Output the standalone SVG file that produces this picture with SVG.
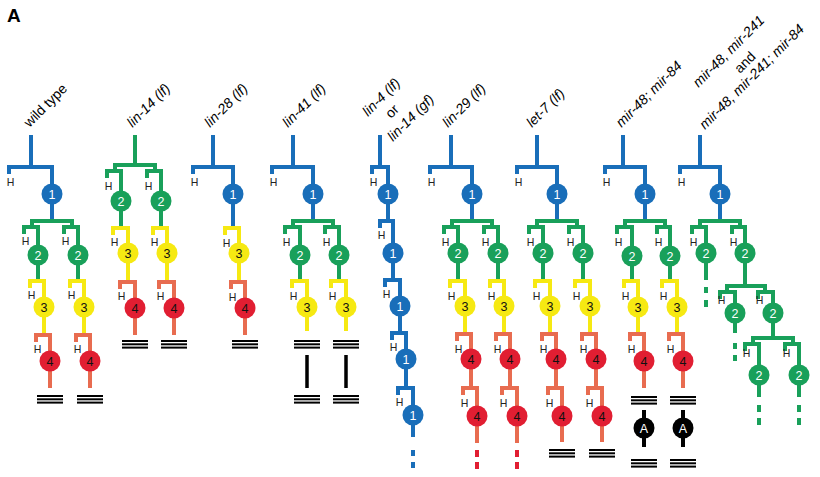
<svg xmlns="http://www.w3.org/2000/svg" width="820" height="477" viewBox="0 0 820 477">
<style>
path{fill:none;stroke-width:4;stroke-linejoin:miter;stroke-linecap:butt}
.b{stroke:#196eb9}.g{stroke:#19a05a}.y{stroke:#f6e912}.o{stroke:#e86c50}.k{stroke:#000}.r{stroke:#e11e32}
.fb{fill:#196eb9}.fg{fill:#19a05a}.fy{fill:#f6e912}.fr{fill:#e11e32}.fk{fill:#000}
text{font-family:"Liberation Sans",Arial,sans-serif}
.n{font-size:12.5px;text-anchor:middle}
.w{fill:#fff}.d{fill:#111}
.h{font-size:10.5px;text-anchor:middle;fill:#222}
.lbl{font-size:14px;fill:#000}
.it{font-style:italic}
</style>
<defs>
<g id="tri"><rect x="-13" y="0" width="26" height="2"/><rect x="-13" y="3.3" width="26" height="2"/><rect x="-13" y="6.6" width="26" height="2"/></g>
</defs>
<text x="7" y="22" style="font-size:19px;font-weight:bold">A</text>
<g id="labels" class="lbl">
<text transform="translate(29.5,128) rotate(-45)">wild type</text>
<text class="it" transform="translate(132.5,128) rotate(-45)">lin-14 (lf)</text>
<text class="it" transform="translate(210,128) rotate(-45)">lin-28 (lf)</text>
<text class="it" transform="translate(288,128) rotate(-45)">lin-41 (lf)</text>
<text class="it" transform="translate(368,117) rotate(-45)">lin-4 (lf)</text>
<text transform="translate(391,119) rotate(-45)">or</text>
<text class="it" transform="translate(393,142) rotate(-45)">lin-14 (gf)</text>
<text class="it" transform="translate(448,128) rotate(-45)">lin-29 (lf)</text>
<text class="it" transform="translate(532,128) rotate(-45)">let-7 (lf)</text>
<text class="it" transform="translate(621.5,128) rotate(-45)">mir-48; mir-84</text>
<text class="it" transform="translate(698.5,88) rotate(-45)">mir-48, mir-241</text>
<text transform="translate(740,74) rotate(-45)">and</text>
<text class="it" transform="translate(705,130) rotate(-45)">mir-48, mir-241; mir-84</text>
</g>
<g id="connectors">
<!-- wild type -->
<path class="b" d="M31,135V167M9,174V167H52V194M52,194V221"/>
<path class="g" d="M32,227V221H72V227M24,234V227H38V255M64,234V227H78V255M38,255V281M78,255V281"/>
<path class="y" d="M30,288V281H44V307M70,288V281H84V307M44,307V335M84,307V335"/>
<path class="o" d="M36,342V335H50V361M76,342V335H90V361M50,361V388M90,361V388"/>
<!-- lin-14 -->
<path class="g" d="M135,135V165M115,171V165H155V171M107,178V171H121V201M147,178V171H161V201M121,201V228M161,201V228"/>
<path class="y" d="M113,235V228H128V253M153,235V228H167V253M128,253V282M167,253V282"/>
<path class="o" d="M120,289V282H135V308M159,289V282H174V308M135,308V335M174,308V335"/>
<!-- lin-28 -->
<path class="b" d="M213,135V167M193,174V167H233V194M233,194V228"/>
<path class="y" d="M225,235V228H239V253M239,253V282"/>
<path class="o" d="M231,289V282H245V308M245,308V335"/>
<!-- lin-41 -->
<path class="b" d="M293,135V167M272,174V167H313V194M313,194V221"/>
<path class="g" d="M293,227V221H333V227M285,234V227H300V255M325,234V227H339V255M300,255V281M339,255V281"/>
<path class="y" d="M292,288V281H307V307M331,288V281H346V307M307,307V331M346,307V331"/>
<path class="k" style="stroke-width:3.5" d="M307,355V388M346,355V388"/>
<!-- lin-4 -->
<path class="b" d="M380,135V167M372,174V167H388V194M388,194V221M380,228V221H393V253M393,253V280M385,287V280H400V306M400,306V333M392,340V333H406V359M406,359V388M398,395V388H413V415M413,415V437M413,450V456M413,462V468"/>
<!-- lin-29 -->
<path class="b" d="M451,135V167M430,174V167H472V194M472,194V221"/>
<path class="g" d="M452,227V221H492V227M444,234V227H458V253M484,234V227H498V253M458,253V281M498,253V281"/>
<path class="y" d="M450,288V281H465V306M490,288V281H504V306M465,306V334M504,306V334"/>
<path class="o" d="M457,341V334H471V359M496,341V334H510V359M471,359V388M510,359V388M463,395V388H477V416M502,395V388H517V416M477,416V443M517,416V443"/>
<path class="r" d="M477,450V457M477,462V469M517,450V457M517,462V469"/>
<!-- let-7 -->
<path class="b" d="M537,135V167M517,174V167H557V194M557,194V221"/>
<path class="g" d="M537,227V221H577V227M529,234V227H543V253M569,234V227H583V253M543,253V281M583,253V281"/>
<path class="y" d="M535,288V281H550V306M575,288V281H590V306M550,306V334M590,306V334"/>
<path class="o" d="M542,341V334H556V359M582,341V334H596V359M556,359V388M596,359V388M548,395V388H562V416M588,395V388H602V416M562,416V442M602,416V442"/>
<!-- mir-48; mir-84 -->
<path class="b" d="M623,135V167M605,174V167H645V194M645,194V221"/>
<path class="g" d="M625,227V221H665V227M617,234V227H632V256M657,234V227H670V256M632,256V281M670,256V281"/>
<path class="y" d="M624,288V281H638V307M662,288V281H677V307M638,307V334M677,307V334"/>
<path class="o" d="M630,341V334H644V361M669,341V334H683V361M644,361V388M683,361V388"/>
<path class="k" d="M644,410V447M683,410V447"/>
<!-- mir-48, mir-241 (; mir-84) -->
<path class="b" d="M700,135V167M680,174V167H720V194M720,194V221"/>
<path class="g" d="M700,227V221H740V227M692,234V227H706V253M732,234V227H745V253M706,253V280M706,287V293M706,300V307M745,253V286M727,292V286H765V292M720,299V292H735V313M758,299V292H773V313M735,313V333M735,343V349M735,355V361M773,313V338M753,344V338H793V344M745,351V344H759V375M785,351V344H799V375M759,375V397M799,375V397M759,405V412M759,418V425M799,405V412M799,418V425"/>
</g>
<g id="terminators">
<use href="#tri" x="50" y="395"/><use href="#tri" x="90" y="395"/>
<use href="#tri" x="135" y="340"/><use href="#tri" x="174" y="340"/>
<use href="#tri" x="245" y="340"/>
<use href="#tri" x="307" y="340"/><use href="#tri" x="346" y="340"/>
<use href="#tri" x="307" y="395"/><use href="#tri" x="346" y="395"/>
<use href="#tri" x="562" y="449"/><use href="#tri" x="602" y="449"/>
<use href="#tri" x="644" y="396"/><use href="#tri" x="683" y="396"/>
<use href="#tri" x="644" y="459"/><use href="#tri" x="683" y="459"/>
</g>
<g id="hlabels" class="h">
<text x="10.5" y="186">H</text><text x="25.5" y="245">H</text><text x="65.5" y="245">H</text><text x="31.5" y="299">H</text><text x="71.5" y="299">H</text><text x="37.5" y="353">H</text><text x="77.5" y="353">H</text>
<text x="108.5" y="190">H</text><text x="148.5" y="190">H</text><text x="114.5" y="246">H</text><text x="154.5" y="246">H</text><text x="121.5" y="300">H</text><text x="160.5" y="300">H</text>
<text x="194.5" y="185.5">H</text><text x="226.5" y="246.5">H</text><text x="232.5" y="300.5">H</text>
<text x="273.5" y="185.5">H</text><text x="286.5" y="245.5">H</text><text x="326.5" y="245.5">H</text><text x="293.5" y="299.5">H</text><text x="332.5" y="299.5">H</text>
<text x="373.5" y="185.5">H</text><text x="381.5" y="239">H</text><text x="386.5" y="298">H</text><text x="393.5" y="351">H</text><text x="399.5" y="406">H</text>
<text x="431.5" y="185.5">H</text><text x="445.5" y="245.5">H</text><text x="485.5" y="245.5">H</text><text x="451.5" y="299.5">H</text><text x="491.5" y="299.5">H</text><text x="458.5" y="352.5">H</text><text x="497.5" y="352.5">H</text><text x="464.5" y="406.5">H</text><text x="503.5" y="406.5">H</text>
<text x="518.5" y="185.5">H</text><text x="530.5" y="245.5">H</text><text x="570.5" y="245.5">H</text><text x="536.5" y="299.5">H</text><text x="576.5" y="299.5">H</text><text x="543.5" y="352.5">H</text><text x="583.5" y="352.5">H</text><text x="549.5" y="406.5">H</text><text x="589.5" y="406.5">H</text>
<text x="606.5" y="185.5">H</text><text x="618.5" y="245.5">H</text><text x="658.5" y="245.5">H</text><text x="625.5" y="299.5">H</text><text x="663.5" y="299.5">H</text><text x="631.5" y="352.5">H</text><text x="670.5" y="352.5">H</text>
<text x="681.5" y="185.5">H</text><text x="693.5" y="245.5">H</text><text x="733.5" y="245.5">H</text><text x="721.5" y="304">H</text><text x="759.5" y="304">H</text><text x="746.5" y="357">H</text><text x="786.5" y="357">H</text>
</g>
<g id="nodes" class="n">
<g id="wt-1"><circle cx="52" cy="194" r="10.5" class="fb"/><text x="52" y="198.5" class="w">1</text></g>
<g id="wt-2a"><circle cx="38" cy="255" r="10.5" class="fg"/><text x="38" y="259.5" class="w">2</text></g>
<g id="wt-2b"><circle cx="78" cy="255" r="10.5" class="fg"/><text x="78" y="259.5" class="w">2</text></g>
<g id="wt-3a"><circle cx="44" cy="307" r="10.5" class="fy"/><text x="44" y="311.5" class="d">3</text></g>
<g id="wt-3b"><circle cx="84" cy="307" r="10.5" class="fy"/><text x="84" y="311.5" class="d">3</text></g>
<g id="wt-4a"><circle cx="50" cy="361" r="10.5" class="fr"/><text x="50" y="365.5" class="d">4</text></g>
<g id="wt-4b"><circle cx="90" cy="361" r="10.5" class="fr"/><text x="90" y="365.5" class="d">4</text></g>

<g id="l14-2a"><circle cx="121" cy="201" r="10.5" class="fg"/><text x="121" y="205.5" class="w">2</text></g>
<g id="l14-2b"><circle cx="161" cy="201" r="10.5" class="fg"/><text x="161" y="205.5" class="w">2</text></g>
<g id="l14-3a"><circle cx="128" cy="253" r="10.5" class="fy"/><text x="128" y="257.5" class="d">3</text></g>
<g id="l14-3b"><circle cx="167" cy="253" r="10.5" class="fy"/><text x="167" y="257.5" class="d">3</text></g>
<g id="l14-4a"><circle cx="135" cy="308" r="10.5" class="fr"/><text x="135" y="312.5" class="d">4</text></g>
<g id="l14-4b"><circle cx="174" cy="308" r="10.5" class="fr"/><text x="174" y="312.5" class="d">4</text></g>

<g id="l28-1"><circle cx="233" cy="194" r="10.5" class="fb"/><text x="233" y="198.5" class="w">1</text></g>
<g id="l28-3"><circle cx="239" cy="253" r="10.5" class="fy"/><text x="239" y="257.5" class="d">3</text></g>
<g id="l28-4"><circle cx="245" cy="308" r="10.5" class="fr"/><text x="245" y="312.5" class="d">4</text></g>

<g id="l41-1"><circle cx="313" cy="194" r="10.5" class="fb"/><text x="313" y="198.5" class="w">1</text></g>
<g id="l41-2a"><circle cx="300" cy="255" r="10.5" class="fg"/><text x="300" y="259.5" class="w">2</text></g>
<g id="l41-2b"><circle cx="339" cy="255" r="10.5" class="fg"/><text x="339" y="259.5" class="w">2</text></g>
<g id="l41-3a"><circle cx="307" cy="307" r="10.5" class="fy"/><text x="307" y="311.5" class="d">3</text></g>
<g id="l41-3b"><circle cx="346" cy="307" r="10.5" class="fy"/><text x="346" y="311.5" class="d">3</text></g>

<g id="l4-1a"><circle cx="388" cy="194" r="10.5" class="fb"/><text x="388" y="198.5" class="w">1</text></g>
<g id="l4-1b"><circle cx="393" cy="253" r="10.5" class="fb"/><text x="393" y="257.5" class="w">1</text></g>
<g id="l4-1c"><circle cx="400" cy="306" r="10.5" class="fb"/><text x="400" y="310.5" class="w">1</text></g>
<g id="l4-1d"><circle cx="406" cy="359" r="10.5" class="fb"/><text x="406" y="363.5" class="w">1</text></g>
<g id="l4-1e"><circle cx="413" cy="415" r="10.5" class="fb"/><text x="413" y="419.5" class="w">1</text></g>

<g id="l29-1"><circle cx="472" cy="194" r="10.5" class="fb"/><text x="472" y="198.5" class="w">1</text></g>
<g id="l29-2a"><circle cx="458" cy="253" r="10.5" class="fg"/><text x="458" y="257.5" class="w">2</text></g>
<g id="l29-2b"><circle cx="498" cy="253" r="10.5" class="fg"/><text x="498" y="257.5" class="w">2</text></g>
<g id="l29-3a"><circle cx="465" cy="306" r="10.5" class="fy"/><text x="465" y="310.5" class="d">3</text></g>
<g id="l29-3b"><circle cx="504" cy="306" r="10.5" class="fy"/><text x="504" y="310.5" class="d">3</text></g>
<g id="l29-4a"><circle cx="471" cy="359" r="10.5" class="fr"/><text x="471" y="363.5" class="d">4</text></g>
<g id="l29-4b"><circle cx="510" cy="359" r="10.5" class="fr"/><text x="510" y="363.5" class="d">4</text></g>
<g id="l29-4c"><circle cx="477" cy="416" r="10.5" class="fr"/><text x="477" y="420.5" class="d">4</text></g>
<g id="l29-4d"><circle cx="517" cy="416" r="10.5" class="fr"/><text x="517" y="420.5" class="d">4</text></g>

<g id="let7-1"><circle cx="557" cy="194" r="10.5" class="fb"/><text x="557" y="198.5" class="w">1</text></g>
<g id="let7-2a"><circle cx="543" cy="253" r="10.5" class="fg"/><text x="543" y="257.5" class="w">2</text></g>
<g id="let7-2b"><circle cx="583" cy="253" r="10.5" class="fg"/><text x="583" y="257.5" class="w">2</text></g>
<g id="let7-3a"><circle cx="550" cy="306" r="10.5" class="fy"/><text x="550" y="310.5" class="d">3</text></g>
<g id="let7-3b"><circle cx="590" cy="306" r="10.5" class="fy"/><text x="590" y="310.5" class="d">3</text></g>
<g id="let7-4a"><circle cx="556" cy="359" r="10.5" class="fr"/><text x="556" y="363.5" class="d">4</text></g>
<g id="let7-4b"><circle cx="596" cy="359" r="10.5" class="fr"/><text x="596" y="363.5" class="d">4</text></g>
<g id="let7-4c"><circle cx="562" cy="416" r="10.5" class="fr"/><text x="562" y="420.5" class="d">4</text></g>
<g id="let7-4d"><circle cx="602" cy="416" r="10.5" class="fr"/><text x="602" y="420.5" class="d">4</text></g>

<g id="m84-1"><circle cx="645" cy="194" r="10.5" class="fb"/><text x="645" y="198.5" class="w">1</text></g>
<g id="m84-2a"><circle cx="632" cy="256" r="10.5" class="fg"/><text x="632" y="260.5" class="w">2</text></g>
<g id="m84-2b"><circle cx="670" cy="256" r="10.5" class="fg"/><text x="670" y="260.5" class="w">2</text></g>
<g id="m84-3a"><circle cx="638" cy="307" r="10.5" class="fy"/><text x="638" y="311.5" class="d">3</text></g>
<g id="m84-3b"><circle cx="677" cy="307" r="10.5" class="fy"/><text x="677" y="311.5" class="d">3</text></g>
<g id="m84-4a"><circle cx="644" cy="361" r="10.5" class="fr"/><text x="644" y="365.5" class="d">4</text></g>
<g id="m84-4b"><circle cx="683" cy="361" r="10.5" class="fr"/><text x="683" y="365.5" class="d">4</text></g>
<g id="m84-Aa"><circle cx="644" cy="428" r="10.5" class="fk"/><text x="644" y="432.5" class="w">A</text></g>
<g id="m84-Ab"><circle cx="683" cy="428" r="10.5" class="fk"/><text x="683" y="432.5" class="w">A</text></g>

<g id="m241-1"><circle cx="720" cy="194" r="10.5" class="fb"/><text x="720" y="198.5" class="w">1</text></g>
<g id="m241-2a"><circle cx="706" cy="253" r="10.5" class="fg"/><text x="706" y="257.5" class="w">2</text></g>
<g id="m241-2b"><circle cx="745" cy="253" r="10.5" class="fg"/><text x="745" y="257.5" class="w">2</text></g>
<g id="m241-2c"><circle cx="735" cy="313" r="10.5" class="fg"/><text x="735" y="317.5" class="w">2</text></g>
<g id="m241-2d"><circle cx="773" cy="313" r="10.5" class="fg"/><text x="773" y="317.5" class="w">2</text></g>
<g id="m241-2e"><circle cx="759" cy="375" r="10.5" class="fg"/><text x="759" y="379.5" class="w">2</text></g>
<g id="m241-2f"><circle cx="799" cy="375" r="10.5" class="fg"/><text x="799" y="379.5" class="w">2</text></g>
</g>
</svg>
